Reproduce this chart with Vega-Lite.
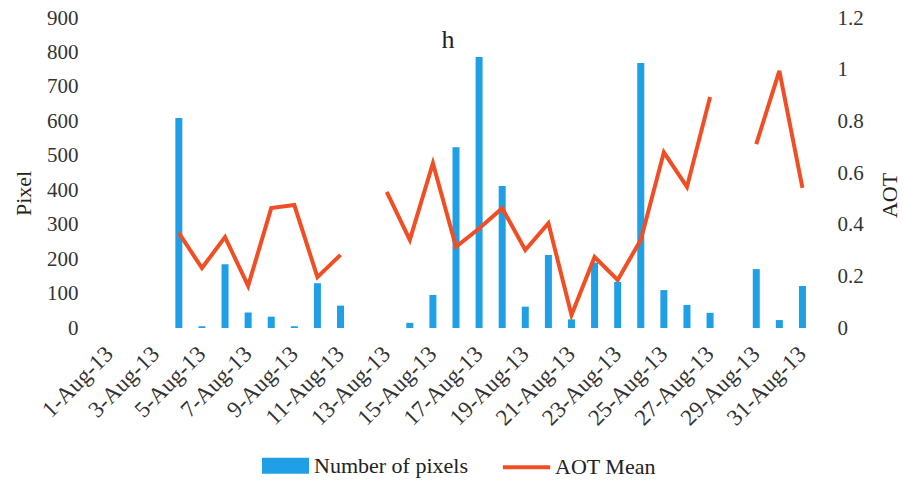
{
  "$schema": "https://vega.github.io/schema/vega-lite/v6.json",
  "autosize": "none",
  "width": 716,
  "height": 310,
  "padding": {"left": 98, "top": 18, "right": 89, "bottom": 153},
  "background": "white",
  "config": {
    "font": "Liberation Serif",
    "view": {"stroke": null},
    "style": {
      "guide-label": {"font": "Liberation Serif"},
      "guide-title": {"font": "Liberation Serif"},
      "group-title": {"font": "Liberation Serif"}
    },
    "axis": {
      "grid": false,
      "domain": false,
      "ticks": false,
      "labelFont": "Liberation Serif",
      "labelFontSize": 21,
      "labelColor": "#333333",
      "titleFont": "Liberation Serif",
      "titleFontWeight": "normal",
      "titleFontSize": 22,
      "titleColor": "#222222"
    },
    "legend": {
      "labelFont": "Liberation Serif",
      "labelFontSize": 22,
      "labelColor": "#222222"
    }
  },
  "title": {
    "text": "h",
    "font": "Liberation Serif",
    "fontSize": 26,
    "fontWeight": "normal",
    "color": "#222222",
    "offset": -46,
    "dx": -8
  },
  "data": {
    "values": [
      {"date": "1-Aug-13", "pixels": null, "aot": null},
      {"date": "2-Aug-13", "pixels": null, "aot": null},
      {"date": "3-Aug-13", "pixels": null, "aot": null},
      {"date": "4-Aug-13", "pixels": 610, "aot": 0.368},
      {"date": "5-Aug-13", "pixels": 5, "aot": 0.232},
      {"date": "6-Aug-13", "pixels": 185, "aot": 0.352},
      {"date": "7-Aug-13", "pixels": 45, "aot": 0.163},
      {"date": "8-Aug-13", "pixels": 33, "aot": 0.464},
      {"date": "9-Aug-13", "pixels": 5, "aot": 0.476},
      {"date": "10-Aug-13", "pixels": 130, "aot": 0.197},
      {"date": "11-Aug-13", "pixels": 65, "aot": 0.283},
      {"date": "12-Aug-13", "pixels": null, "aot": null},
      {"date": "13-Aug-13", "pixels": null, "aot": 0.527},
      {"date": "14-Aug-13", "pixels": 15, "aot": 0.341},
      {"date": "15-Aug-13", "pixels": 96, "aot": 0.638},
      {"date": "16-Aug-13", "pixels": 525, "aot": 0.314},
      {"date": "17-Aug-13", "pixels": 787, "aot": 0.385},
      {"date": "18-Aug-13", "pixels": 412, "aot": 0.464},
      {"date": "19-Aug-13", "pixels": 62, "aot": 0.302},
      {"date": "20-Aug-13", "pixels": 212, "aot": 0.406},
      {"date": "21-Aug-13", "pixels": 25, "aot": 0.05},
      {"date": "22-Aug-13", "pixels": 190, "aot": 0.275},
      {"date": "23-Aug-13", "pixels": 134, "aot": 0.186},
      {"date": "24-Aug-13", "pixels": 769, "aot": 0.341},
      {"date": "25-Aug-13", "pixels": 110, "aot": 0.68},
      {"date": "26-Aug-13", "pixels": 67, "aot": 0.546},
      {"date": "27-Aug-13", "pixels": 44, "aot": 0.894},
      {"date": "28-Aug-13", "pixels": null, "aot": null},
      {"date": "29-Aug-13", "pixels": 171, "aot": 0.712},
      {"date": "30-Aug-13", "pixels": 23, "aot": 0.995},
      {"date": "31-Aug-13", "pixels": 122, "aot": 0.542}
    ]
  },
  "encoding": {
    "x": {
      "field": "date",
      "type": "ordinal",
      "sort": null,
      "title": null,
      "scale": {
        "domain": ["1-Aug-13", "2-Aug-13", "3-Aug-13", "4-Aug-13", "5-Aug-13", "6-Aug-13", "7-Aug-13", "8-Aug-13", "9-Aug-13", "10-Aug-13", "11-Aug-13", "12-Aug-13", "13-Aug-13", "14-Aug-13", "15-Aug-13", "16-Aug-13", "17-Aug-13", "18-Aug-13", "19-Aug-13", "20-Aug-13", "21-Aug-13", "22-Aug-13", "23-Aug-13", "24-Aug-13", "25-Aug-13", "26-Aug-13", "27-Aug-13", "28-Aug-13", "29-Aug-13", "30-Aug-13", "31-Aug-13"],
        "paddingInner": 0,
        "paddingOuter": 0
      },
      "axis": {
        "values": ["1-Aug-13", "3-Aug-13", "5-Aug-13", "7-Aug-13", "9-Aug-13", "11-Aug-13", "13-Aug-13", "15-Aug-13", "17-Aug-13", "19-Aug-13", "21-Aug-13", "23-Aug-13", "25-Aug-13", "27-Aug-13", "29-Aug-13", "31-Aug-13"],
        "labelAngle": -45,
        "labelAlign": "right",
        "labelBaseline": "middle",
        "labelPadding": 22,
        "labelFont": "Liberation Serif",
        "labelFontSize": 23
      }
    }
  },
  "layer": [
    {
      "mark": {"type": "bar", "size": 7},
      "encoding": {
        "y": {
          "field": "pixels",
          "type": "quantitative",
          "title": "Pixel",
          "scale": {"domain": [0, 900], "nice": false},
          "axis": {
            "values": [0, 100, 200, 300, 400, 500, 600, 700, 800, 900],
            "labelFont": "Liberation Serif",
            "titleFont": "Liberation Serif",
            "labelPadding": 20,
            "titleX": -75,
            "titleY": 175,
            "titleAngle": -90,
            "titleBaseline": "middle",
            "titleAlign": "center"
          }
        },
        "color": {
          "datum": "Number of pixels",
          "type": "nominal",
          "scale": {"domain": ["Number of pixels", "AOT Mean"], "range": ["#1f9fe6", "#f04f26"]},
          "legend": {
            "title": null,
            "orient": "none",
            "legendX": 164,
            "legendY": 424,
            "direction": "horizontal",
            "columnPadding": 26,
            "symbolSize": 1849,
            "labelOffset": 5,
            "labelFont": "Liberation Serif",
            "encode": {
              "symbols": {
                "update": {
                  "shape": {"signal": "datum.value === 'AOT Mean' ? 'M-1.1,0H1.1' : 'M-1,-0.28H1V0.28H-1Z'"},
                  "stroke": {"signal": "datum.value === 'AOT Mean' ? '#f04f26' : null"},
                  "strokeWidth": {"value": 4},
                  "fill": {"signal": "datum.value === 'AOT Mean' ? null : '#1f9fe6'"}
                }
              }
            }
          }
        }
      }
    },
    {
      "mark": {"type": "line", "strokeWidth": 4, "invalid": "break-paths-filter-domains"},
      "encoding": {
        "y": {
          "field": "aot",
          "type": "quantitative",
          "title": "AOT",
          "scale": {"domain": [0, 1.2], "nice": false},
          "axis": {
            "orient": "right",
            "values": [0, 0.2, 0.4, 0.6, 0.8, 1, 1.2],
            "format": "~g",
            "labelFont": "Liberation Serif",
            "titleFont": "Liberation Serif",
            "labelPadding": 23,
            "titleX": 75,
            "titleY": 177,
            "titleAngle": -90,
            "titleBaseline": "middle",
            "titleAlign": "center"
          }
        },
        "color": {"datum": "AOT Mean", "type": "nominal"}
      }
    }
  ],
  "resolve": {"scale": {"y": "independent"}}
}
